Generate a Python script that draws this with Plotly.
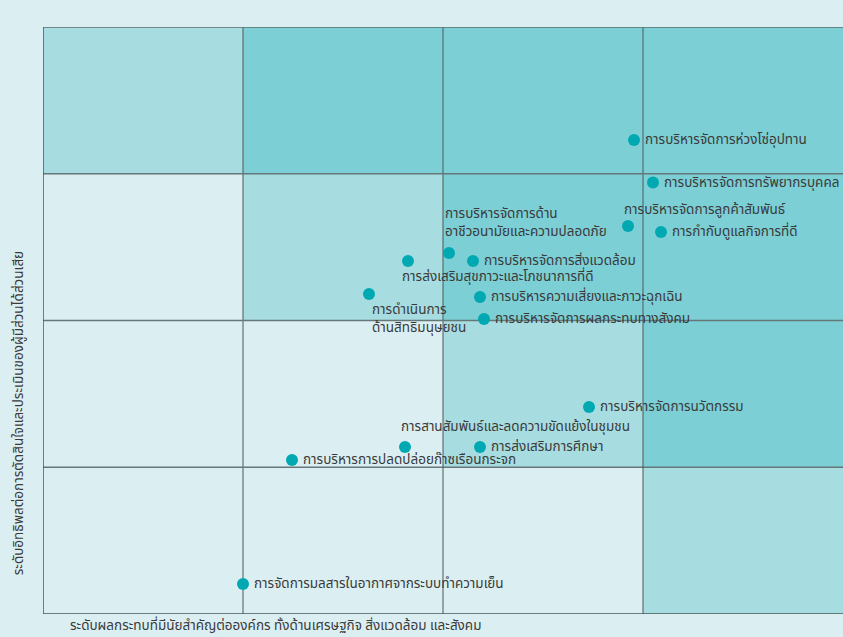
import plotly.graph_objects as go

# ---------------- data ----------------
topics = [
    "การบริหารจัดการห่วงโซ่อุปทาน",
    "การบริหารจัดการทรัพยากรบุคคล",
    "การบริหารจัดการลูกค้าสัมพันธ์",
    "การกำกับดูแลกิจการที่ดี",
    "การบริหารจัดการด้าน<br>อาชีวอนามัยและความปลอดภัย",
    "การบริหารจัดการสิ่งแวดล้อม",
    "การส่งเสริมสุขภาวะและโภชนาการที่ดี",
    "การดำเนินการ<br>ด้านสิทธิมนุษยชน",
    "การบริหารความเสี่ยงและภาวะฉุกเฉิน",
    "การบริหารจัดการผลกระทบทางสังคม",
    "การบริหารจัดการนวัตกรรม",
    "การสานสัมพันธ์และลดความขัดแย้งในชุมชน",
    "การส่งเสริมการศึกษา",
    "การบริหารการปลดปล่อยก๊าซเรือนกระจก",
    "การจัดการมลสารในอากาศจากระบบทำความเย็น",
]
impact = [2.955, 3.05, 2.925, 3.09, 2.03, 2.15, 1.825, 1.63, 2.185, 2.205, 2.73, 1.81, 2.185, 1.245, 1.0]
influence = [3.23, 2.94, 2.644, 2.603, 2.46, 2.405, 2.405, 2.18, 2.16, 2.01, 1.41, 1.138, 1.138, 1.05, 0.204]

x_title = "ระดับผลกระทบที่มีนัยสำคัญต่อองค์กร ทั้งด้านเศรษฐกิจ สิ่งแวดล้อม และสังคม"
y_title = "ระดับอิทธิพลต่อการตัดสินใจและประเมินของผู้มีส่วนได้ส่วนเสีย"

# ---------------- styles ----------------
BG = "#dbeff2"
MID = "#a7dde0"
DARK = "#7ccfd5"
TEAL = "#00a9b1"
TXT = "#3a3a3a"
FONT = "Noto Sans Thai, Noto Sans, sans-serif"
FS = 13.5

# cell shading level per (row from bottom, col from left)
levels = [
    [0, 0, 0, 1],
    [0, 0, 1, 2],
    [0, 1, 2, 2],
    [1, 2, 2, 2],
]
fills = [BG, MID, DARK]

# label placement offsets in pixels (xshift, yshift)
place = {
    2: (-6, 16),
    4: (-6, 30),
    6: (-8, -16),
    7: (1, -25),
    11: (-6, 20),
}

fig = go.Figure()

shapes = []
for r in range(4):
    for c in range(4):
        shapes.append(dict(type="rect", xref="x", yref="y", x0=c, x1=c + 1, y0=r, y1=r + 1,
                           fillcolor=fills[levels[r][c]], line=dict(width=0), layer="below"))
for k in range(1, 4):
    shapes.append(dict(type="line", xref="x", yref="y", x0=k, x1=k, y0=0, y1=4,
                       line=dict(color="#4a5859", width=1), layer="below"))
    shapes.append(dict(type="line", xref="x", yref="y", x0=0, x1=4, y0=k, y1=k,
                       line=dict(color="#66777a", width=1.5), layer="below"))
shapes.append(dict(type="line", xref="x", yref="y", x0=0, x1=4, y0=4, y1=4,
                   line=dict(color="#5f6d6e", width=1.5), layer="below"))
shapes.append(dict(type="line", xref="x", yref="y", x0=0, x1=4, y0=0, y1=0,
                   line=dict(color="#4a5859", width=1.5)))
shapes.append(dict(type="line", xref="x", yref="y", x0=0, x1=0, y0=0, y1=4,
                   line=dict(color="#4a5859", width=1.5)))
shapes.append(dict(type="line", xref="x", yref="y", x0=0, x1=0, y0=4, y1=4.07,
                   line=dict(color=TEAL, width=1.5)))

fig.add_trace(go.Scatter(x=[0], y=[4.085], mode="markers",
                         marker=dict(symbol="triangle-up", size=8, color=TEAL),
                         cliponaxis=False, hoverinfo="skip", showlegend=False))

fig.add_trace(go.Scatter(x=impact, y=influence, mode="markers",
                         marker=dict(size=12, color=TEAL, line=dict(width=0)),
                         text=topics, hoverinfo="text",
                         cliponaxis=False, showlegend=False))

annotations = []
for i, (t, xv, yv) in enumerate(zip(topics, impact, influence)):
    xs, ys = place.get(i, (9, 0))
    annotations.append(dict(x=xv, y=yv, xref="x", yref="y", text=t, showarrow=False,
                            xanchor="left", yanchor="middle", align="left",
                            xshift=xs, yshift=ys,
                            font=dict(family=FONT, size=FS, color=TXT)))

annotations.append(dict(x=0.031, y=-0.021, xref="paper", yref="paper", text=x_title,
                        showarrow=False, xanchor="left", yanchor="middle",
                        font=dict(family=FONT, size=FS, color=TXT)))
annotations.append(dict(x=-0.03, y=0.342, xref="paper", yref="paper", text=y_title,
                        showarrow=False, xanchor="center", yanchor="middle", textangle=-90,
                        font=dict(family=FONT, size=FS, color=TXT)))

fig.update_layout(
    width=843, height=637,
    margin=dict(l=43, r=0, t=27, b=23),
    paper_bgcolor=BG, plot_bgcolor=BG,
    shapes=shapes, annotations=annotations,
    xaxis=dict(range=[0, 4], showgrid=False, zeroline=False, showticklabels=False, fixedrange=True),
    yaxis=dict(range=[0, 4], showgrid=False, zeroline=False, showticklabels=False, fixedrange=True),
    font=dict(family=FONT, color=TXT),
)

fig.write_html("out.html", config={"displayModeBar": False},
               post_script="document.body.style.margin='0';document.body.style.overflow='hidden';")
